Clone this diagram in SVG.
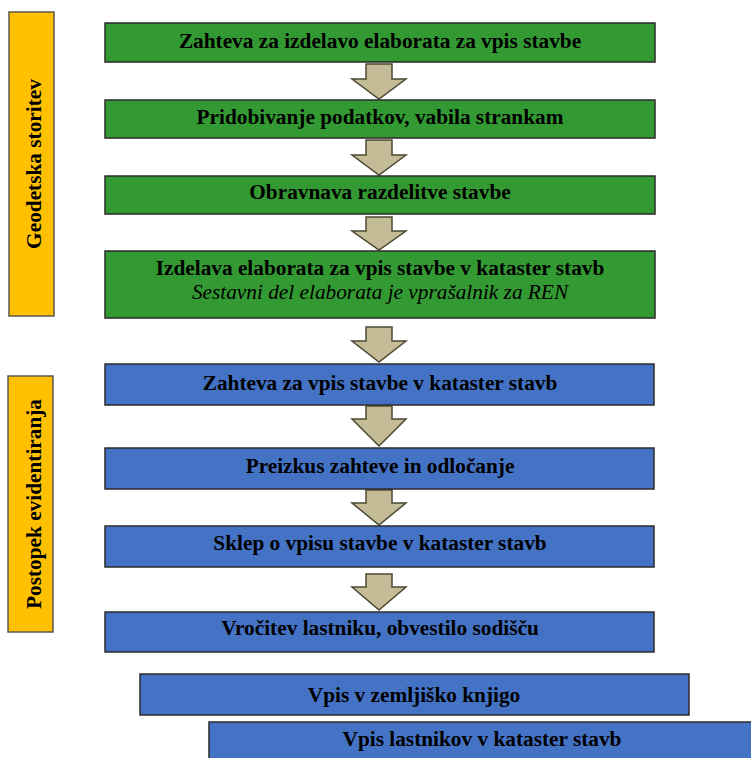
<svg xmlns="http://www.w3.org/2000/svg" width="751" height="758" viewBox="0 0 751 758">
  <style>
    .lane { fill: #ffc000; stroke: #5e5a4e; stroke-width: 1.5; }
    .green { fill: #339933; stroke: #2b2b2b; stroke-width: 1.5; }
    .blue { fill: #4472c4; stroke: #2b2b2b; stroke-width: 1.5; }
    .arrow { fill: #c4bc96; stroke: #4d4833; stroke-width: 1.5; stroke-linejoin: miter; }
    .t { font-family: "Liberation Serif", "Times New Roman", serif; font-size: 21.3px; font-weight: bold; fill: #000; text-anchor: middle; }
    .ti { font-family: "Liberation Serif", "Times New Roman", serif; font-size: 21.3px; font-style: italic; fill: #000; text-anchor: middle; }
  </style>

  <rect width="751" height="758" fill="#ffffff"/>

  <!-- swimlane labels -->
  <g id="lane-geodetska">
    <rect class="lane" x="9" y="12" width="45" height="304"/>
    <text class="t" transform="translate(41,164) rotate(-90)">Geodetska storitev</text>
  </g>
  <g id="lane-postopek">
    <rect class="lane" x="8" y="376" width="45" height="256"/>
    <text class="t" transform="translate(41,504) rotate(-90)">Postopek evidentiranja</text>
  </g>

  <!-- connectors: block arrows between consecutive steps -->
  <g id="connectors">
    <path class="arrow" d="M366,64 H392 V79 H406 L379,99 L352,79 H366 Z"/>
    <path class="arrow" d="M366,140 H392 V155 H406 L379,175 L352,155 H366 Z"/>
    <path class="arrow" d="M366,217 H392 V231 H406 L379,250 L352,231 H366 Z"/>
    <path class="arrow" d="M366,327 H392 V341 H406 L379,362 L352,341 H366 Z"/>
    <path class="arrow" d="M366,406 H392 V419 H406 L379,446 L352,419 H366 Z"/>
    <path class="arrow" d="M366,490 H392 V503 H406 L379,525 L352,503 H366 Z"/>
    <path class="arrow" d="M366,574 H392 V587 H406 L379,610 L352,587 H366 Z"/>
  </g>

  <!-- geodetic service steps -->
  <g id="step-zahteva-elaborat">
    <rect class="green" x="105" y="23" width="550" height="39"/>
    <text class="t" x="380" y="48">Zahteva za izdelavo elaborata za vpis stavbe</text>
  </g>
  <g id="step-pridobivanje">
    <rect class="green" x="105" y="100" width="550" height="38"/>
    <text class="t" x="380" y="124">Pridobivanje podatkov, vabila strankam</text>
  </g>
  <g id="step-obravnava">
    <rect class="green" x="105" y="176" width="550" height="38"/>
    <text class="t" x="380" y="199">Obravnava razdelitve stavbe</text>
  </g>
  <g id="step-izdelava">
    <rect class="green" x="105" y="251" width="550" height="67"/>
    <text class="t" x="380" y="275">Izdelava elaborata za vpis stavbe v kataster stavb</text>
    <text class="ti" x="380" y="299">Sestavni del elaborata je vprašalnik za REN</text>
  </g>

  <!-- registration procedure steps -->
  <g id="step-zahteva-vpis">
    <rect class="blue" x="105" y="364" width="549" height="41"/>
    <text class="t" x="380" y="390">Zahteva za vpis stavbe v kataster stavb</text>
  </g>
  <g id="step-preizkus">
    <rect class="blue" x="105" y="448" width="549" height="41"/>
    <text class="t" x="380" y="473">Preizkus zahteve in odločanje</text>
  </g>
  <g id="step-sklep">
    <rect class="blue" x="105" y="526" width="549" height="41"/>
    <text class="t" x="380" y="550">Sklep o vpisu stavbe v kataster stavb</text>
  </g>
  <g id="step-vrocitev">
    <rect class="blue" x="105" y="612" width="549" height="40"/>
    <text class="t" x="380" y="635">Vročitev lastniku, obvestilo sodišču</text>
  </g>
  <g id="step-zemljiska-knjiga">
    <rect class="blue" x="140" y="674" width="549" height="41"/>
    <text class="t" x="414" y="702">Vpis v zemljiško knjigo</text>
  </g>
  <g id="step-lastniki">
    <rect class="blue" x="209" y="722" width="560" height="50"/>
    <text class="t" x="482" y="746">Vpis lastnikov v kataster stavb</text>
  </g>
</svg>
